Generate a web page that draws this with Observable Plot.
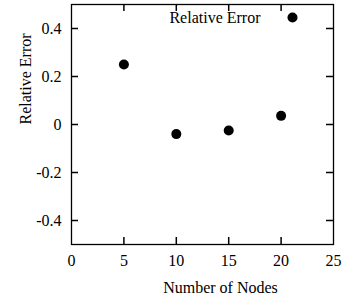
<!DOCTYPE html>
<html>
<head>
<meta charset="utf-8">
<script src="https://cdn.jsdelivr.net/npm/d3@7"></script>
<script src="https://cdn.jsdelivr.net/npm/@observablehq/plot@0.6"></script>
<style>
  html, body { margin: 0; padding: 0; background: #fff; }
</style>
</head>
<body>
<div id="chart"></div>
<script>
const nodes = [5, 10, 15, 20];
const relErr = [0.25, -0.04, -0.025, 0.036];
const xTicks = [0, 5, 10, 15, 20, 25];
const xInnerTicks = [5, 10, 15, 20];
const yTicks = [-0.4, -0.2, 0, 0.2, 0.4];
const xDomain = [0, 25];
const yDomain = [-0.5, 0.5];
const seriesName = "Relative Error";

const data = nodes.map((n, i) => ({n, e: relErr[i]}));
const fmt = d => String(d);

const chart = Plot.plot({
  width: 355,
  height: 301,
  marginLeft: 71,
  marginRight: 22,
  marginTop: 4,
  marginBottom: 57,
  style: {fontFamily: "'Liberation Serif', 'Times New Roman', serif", fontSize: "16px", color: "#000", background: "#fff"},
  x: {domain: xDomain},
  y: {domain: yDomain},
  marks: [
    Plot.axisX({ticks: xTicks, tickSize: 0, tickPadding: 10, tickFormat: fmt, fontSize: 16, label: null}),
    Plot.axisY({ticks: yTicks, tickSize: 0, tickPadding: 10, tickFormat: fmt, fontSize: 16, label: null}),
    Plot.text(["Number of Nodes"], {text: d => d, frameAnchor: "bottom", dx: 18, dy: 43, lineAnchor: "middle", fontSize: 16, fill: "#000"}),
    Plot.text([seriesName], {text: d => d, frameAnchor: "left", dx: -46, rotate: -90, lineAnchor: "middle", fontSize: 16, fill: "#000"}),
    Plot.ruleX(xInnerTicks, {x: d => d, insetTop: 233, stroke: "#000", strokeWidth: 1.5}),
    Plot.ruleX(xInnerTicks, {x: d => d, insetBottom: 233, stroke: "#000", strokeWidth: 1.5}),
    Plot.ruleY(yTicks, {y: d => d, insetRight: 255, stroke: "#000", strokeWidth: 1.5}),
    Plot.ruleY(yTicks, {y: d => d, insetLeft: 255, stroke: "#000", strokeWidth: 1.5}),
    Plot.frame({stroke: "#000", strokeWidth: 1.3}),
    Plot.dot(data, {x: "n", y: "e", r: 5, fill: "#000"}),
    Plot.text([seriesName], {text: d => d, frameAnchor: "top-right", textAnchor: "end", lineAnchor: "middle", dx: -73, dy: 13, fontSize: 16, fill: "#000"}),
    Plot.dot([seriesName], {frameAnchor: "top-right", dx: -41, dy: 13, r: 5, fill: "#000"})
  ]
});
document.getElementById("chart").appendChild(chart);
</script>
</body>
</html>
